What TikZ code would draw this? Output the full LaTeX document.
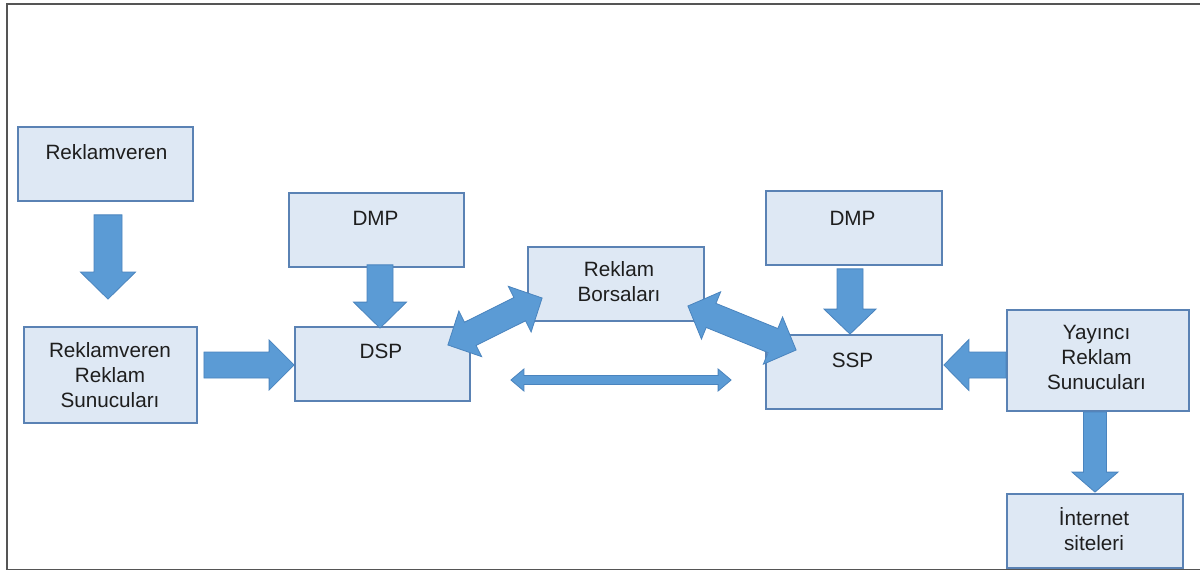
\documentclass[tikz,border=0pt]{standalone}
\usepackage{fontspec}
\setmainfont{Liberation Sans}
\usetikzlibrary{calc}

\definecolor{boxfill}{HTML}{DEE8F4}
\definecolor{boxline}{HTML}{5A82B4}
\definecolor{arrowfill}{HTML}{5B9BD5}
\definecolor{arrowline}{HTML}{4A84BE}
\definecolor{textcol}{HTML}{1E1E1E}
\definecolor{framecol}{HTML}{555555}

% single block arrow: tail, tip, half shaft width, half head width, head length
\newcommand\blockarrow[5]{%
  \coordinate (ba-h) at ($(#2)!#5!(#1)$);
  \filldraw[blockarr] ($(#1)!#3!90:(#2)$) -- ($(ba-h)!#3!-90:(#1)$)
    -- ($(ba-h)!#4!-90:(#1)$) -- (#2) -- ($(ba-h)!#4!90:(#1)$)
    -- ($(ba-h)!#3!90:(#1)$) -- ($(#1)!#3!-90:(#2)$) -- cycle;
}
% double block arrow: tip, tip, half shaft width, half head width, head length
\newcommand\blockdarrow[5]{%
  \coordinate (bd-h1) at ($(#1)!#5!(#2)$);
  \coordinate (bd-h2) at ($(#2)!#5!(#1)$);
  \filldraw[blockarr] (#1) -- ($(bd-h1)!#4!90:(#2)$) -- ($(bd-h1)!#3!90:(#2)$)
    -- ($(bd-h2)!#3!-90:(#1)$) -- ($(bd-h2)!#4!-90:(#1)$) -- (#2)
    -- ($(bd-h2)!#4!90:(#1)$) -- ($(bd-h2)!#3!90:(#1)$)
    -- ($(bd-h1)!#3!-90:(#2)$) -- ($(bd-h1)!#4!-90:(#2)$) -- cycle;
}

\begin{document}
\begin{tikzpicture}[x=1pt,y=-1pt,
  box/.style={draw=boxline,fill=boxfill,line width=1.8pt,rectangle,inner sep=0pt},
  txt/.style={text=textcol,align=center,inner sep=0pt,
    font=\fontsize{20.7}{25}\selectfont},
  blockarr/.style={fill=arrowfill,draw=arrowline,line width=0.8pt,line join=miter},
  frame/.style={draw=framecol,line width=2.2pt}]

\useasboundingbox (0,0) rectangle (1200,572);
\fill[white] (0,0) rectangle (1200,572);

% outer frame (open on the right)
\draw[frame] (1200,4) -- (7,4) -- (7,570);
\draw[framecol,line width=1.4pt] (7,569.6) -- (1200,569.6);

% boxes
\node[box,minimum width=175,minimum height=74] (rv)    at (105.5,164) {};
\node[box,minimum width=173,minimum height=96] (rs)    at (110.5,375) {};
\node[box,minimum width=175,minimum height=74] (dmp1)  at (376.5,230) {};
\node[box,minimum width=175,minimum height=74] (dsp)   at (382.5,364) {};
\node[box,minimum width=176,minimum height=74] (borsa) at (616,284)   {};
\node[box,minimum width=176,minimum height=74] (dmp2)  at (854,228)   {};
\node[box,minimum width=176,minimum height=74] (ssp)   at (854,372)   {};
\node[box,minimum width=182,minimum height=101] (yay)  at (1098,360.5) {};
\node[box,minimum width=176,minimum height=74] (int)   at (1095,531)  {};

% labels
\node[txt] (rv-t)    at (106.5,152) {Reklamveren};
\node[txt] (rs-t)    at (110,375)   {Reklamveren\\Reklam\\Sunucuları};
\node[txt] (dmp1-t)  at (375.5,218) {DMP};
\node[txt] (dsp-t)   at (381,351)   {DSP};
\node[txt] (borsa-t) at (619,281.5) {Reklam\\Borsaları};
\node[txt] (dmp2-t)  at (852.5,218) {DMP};
\node[txt] (ssp-t)   at (852.5,360) {SSP};
\node[txt] (yay-t)   at (1096.5,357) {Yayıncı\\Reklam\\Sunucuları};
\node[txt] (int-t)   at (1094,529.5) {İnternet\\siteleri};

% arrow ends
\coordinate (a1s) at ($(rv.south)+(2.5,13)$);
\coordinate (a1t) at ($(rs.north)+(-2.5,-27)$);
\coordinate (a2s) at ($(rs.east)+(6,-10)$);
\coordinate (a2t) at ($(dsp.west)+(0,1)$);
\coordinate (a3s) at ($(dmp1.south)+(3.5,-3)$);
\coordinate (a3t) at ($(dsp.north)+(-2.5,2)$);
\coordinate (a4a) at ($(dsp.east)+(-23,-19)$);
\coordinate (a4b) at ($(borsa.west)+(15,14)$);
\coordinate (a5a) at ($(borsa.east)+(-17,22)$);
\coordinate (a5b) at ($(ssp.west)+(31,-22)$);
\coordinate (a6a) at ($(dsp.east)+(40,16)$);
\coordinate (a6b) at ($(ssp.west)+(-34,8)$);
\coordinate (a7s) at ($(dmp2.south)+(-4,3)$);
\coordinate (a7t) at ($(ssp.north)+(-4,0)$);
\coordinate (a8s) at ($(yay.west)+(0,4.5)$);
\coordinate (a8t) at ($(ssp.east)+(1,-7)$);
\coordinate (a9s) at ($(yay.south)+(-3,0)$);
\coordinate (a9t) at ($(int.north)+(0,-1)$);

% block arrows
\blockarrow{a1s}{a1t}{14pt}{27.5pt}{27pt}
\blockarrow{a2s}{a2t}{13pt}{25pt}{25pt}
\blockarrow{a3s}{a3t}{13pt}{26.5pt}{26pt}
\blockdarrow{a4a}{a4b}{13pt}{25.5pt}{25pt}
\blockdarrow{a5a}{a5b}{13pt}{25.5pt}{25pt}
\blockdarrow{a6a}{a6b}{4.5pt}{11pt}{13pt}
\blockarrow{a7s}{a7t}{13pt}{26pt}{25pt}
\blockarrow{a8s}{a8t}{13pt}{25.5pt}{25pt}
\blockarrow{a9s}{a9t}{11.5pt}{23pt}{20pt}

\end{tikzpicture}
\end{document}
